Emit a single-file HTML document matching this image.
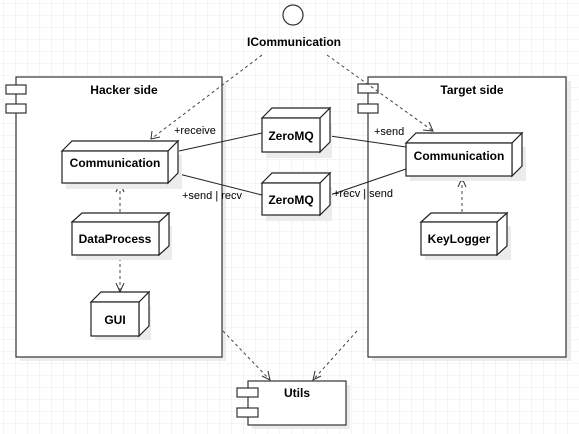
<!DOCTYPE html>
<html><head><style>
html,body{margin:0;padding:0;background:#fff;}
svg{display:block;}
text{font-family:"Liberation Sans",Arial,sans-serif;fill:#000;}
</style></head><body>
<svg width="579" height="434" viewBox="0 0 579 434" xmlns="http://www.w3.org/2000/svg">
<defs>
<pattern id="g" width="12" height="12" patternUnits="userSpaceOnUse" x="4" y="4">
<path d="M12 0V12M0 12H12" fill="none" stroke="#ebebeb" stroke-width="1"/>
</pattern>
</defs>
<rect width="579" height="434" fill="url(#g)"/>
<g stroke="#333" stroke-width="1.2" fill="#fff">
<!-- shadows -->
<g stroke="none" fill="#ececec">
<rect x="20" y="81" width="206" height="280"/>
<rect x="372" y="81" width="199" height="280"/>
<rect x="252" y="385" width="98" height="44"/>
</g>
<!-- hacker side -->
<rect x="16" y="77" width="206" height="280"/>
<rect x="6" y="85" width="20" height="9"/>
<rect x="6" y="104" width="20" height="9"/>
<!-- target side -->
<rect x="368" y="77" width="198" height="280"/>
<rect x="358" y="84" width="20" height="9"/>
<rect x="358" y="104" width="20" height="9"/>
<!-- utils -->
<rect x="248" y="381" width="98" height="44"/>
<rect x="237" y="388" width="21" height="9"/>
<rect x="237" y="408" width="21" height="9"/>
<!-- circle -->
<circle cx="293" cy="15" r="10"/>
</g>
<g font-size="12" font-weight="bold" text-anchor="middle">
<text x="124" y="94">Hacker side</text>
<text x="472" y="94">Target side</text>
<text x="297" y="397">Utils</text>
<text x="294" y="46">ICommunication</text>
</g>
<!-- connectors -->
<g stroke="#222" stroke-width="1" fill="none">
<line x1="179" y1="151" x2="262" y2="133"/>
<line x1="179" y1="174" x2="262" y2="195"/>
<line x1="330" y1="136" x2="406" y2="147"/>
<line x1="330" y1="195" x2="406" y2="169"/>
</g>
<g stroke="#444" stroke-width="1" fill="none" stroke-dasharray="3,3">
<line x1="262" y1="55" x2="151" y2="139"/>
<line x1="327" y1="55" x2="433" y2="131"/>
<line x1="223" y1="331" x2="270" y2="380"/>
<line x1="357" y1="331" x2="313" y2="380"/>
<line x1="120" y1="212" x2="120" y2="186"/>
<line x1="120" y1="258" x2="120" y2="290"/>
<line x1="462" y1="212" x2="462" y2="180"/>
</g>
<g stroke="#333" stroke-width="1" fill="none">
<polyline points="152,131 151,139 160,137"/>
<polyline points="423,130 433,131 429,122"/>
<polyline points="262,376 270,380 268,371"/>
<polyline points="315,371 313,380 321,376"/>
<polyline points="116,192 120,183 124,192"/>
<polyline points="116,283 120,292 124,283"/>
<polyline points="458,187 462,178 466,187"/>
</g>
<!-- nodes -->
<g stroke="#222" stroke-width="1.2" fill="#fff">
<g stroke="none" fill="#ececec">
<rect x="66" y="155" width="116" height="34"/>
<rect x="266" y="124" width="66" height="34"/>
<rect x="266" y="187" width="66" height="34"/>
<rect x="410" y="147" width="116" height="34"/>
<rect x="76" y="226" width="96" height="34"/>
<rect x="95" y="306" width="56" height="34"/>
<rect x="425" y="226" width="86" height="34"/>
</g>
<path d="M62 151L72 141H178L168 151ZM168 151L178 141V173L168 183Z"/><rect x="62" y="151" width="106" height="32"/>
<path d="M262 118L272 108H330L320 118ZM320 118L330 108V142L320 152Z"/><rect x="262" y="118" width="58" height="34"/>
<path d="M262 183L272 173H330L320 183ZM320 183L330 173V205L320 215Z"/><rect x="262" y="183" width="58" height="32"/>
<path d="M406 143L416 133H522L512 143ZM512 143L522 133V166L512 176Z"/><rect x="406" y="143" width="106" height="33"/>
<path d="M72 222L82 213H169L159 222ZM159 222L169 213V246L159 255Z"/><rect x="72" y="222" width="87" height="33"/>
<path d="M91 302L101 292H149L139 302ZM139 302L149 292V326L139 336Z"/><rect x="91" y="302" width="48" height="34"/>
<path d="M421 222L431 213H507L497 222ZM497 222L507 213V246L497 255Z"/><rect x="421" y="222" width="76" height="33"/>
</g>
<g font-size="12" font-weight="bold" text-anchor="middle">
<text x="115" y="167">Communication</text>
<text x="291" y="140">ZeroMQ</text>
<text x="291" y="204">ZeroMQ</text>
<text x="459" y="160">Communication</text>
<text x="115" y="243">DataProcess</text>
<text x="115" y="324">GUI</text>
<text x="459" y="243">KeyLogger</text>
</g>
<g font-size="11">
<text x="174" y="134">+receive</text>
<text x="182" y="199">+send | recv</text>
<text x="374" y="135">+send</text>
<text x="333" y="197">+recv | send</text>
</g>
</svg>
</body></html>
